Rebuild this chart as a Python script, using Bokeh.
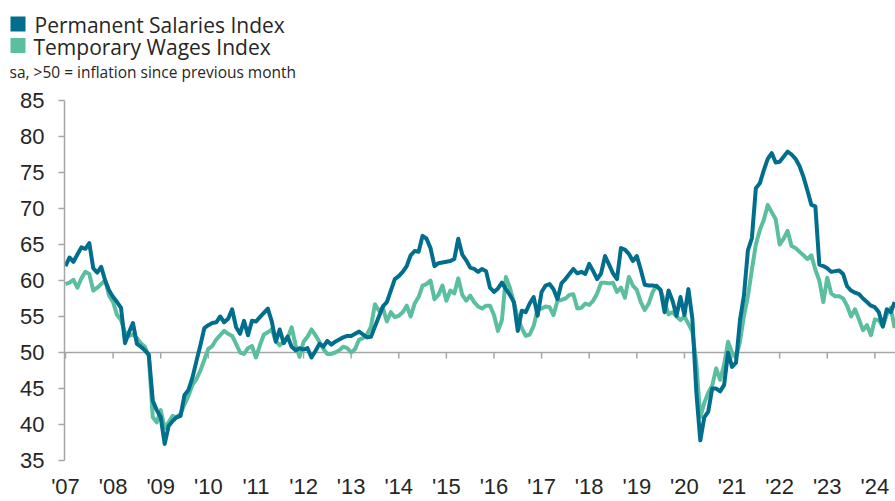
import numpy as np
from bokeh.plotting import figure
from bokeh.models import (Range1d, FixedTicker, Span, Label, ColumnDataSource)
from bokeh.embed import file_html
from bokeh.resources import INLINE

# ---------------- data (monthly, Jan 2007 - Jun 2024) ----------------
first_year = 2007
year_labels = ["'07", "'08", "'09", "'10", "'11", "'12", "'13", "'14", "'15",
               "'16", "'17", "'18", "'19", "'20", "'21", "'22", "'23", "'24"]

permanent = [
    62.0, 63.2, 62.6, 63.6, 64.6, 64.4, 65.2, 61.7, 61.1, 61.9, 60.0, 58.6,   # 2007
    57.7, 57.0, 56.2, 51.3, 52.8, 54.1, 51.2, 50.8, 50.3, 49.7, 43.3, 42.0,   # 2008
    41.0, 37.3, 39.8, 40.5, 41.0, 41.2, 44.1, 44.8, 46.5, 48.8, 51.0, 53.4,   # 2009
    53.8, 54.1, 54.2, 55.0, 54.2, 54.7, 56.0, 53.5, 52.6, 54.4, 52.4, 54.4,   # 2010
    54.3, 54.9, 55.5, 56.1, 54.3, 51.5, 53.2, 51.3, 52.2, 50.8, 50.3, 50.6,   # 2011
    50.4, 50.6, 49.3, 50.2, 51.2, 50.8, 51.6, 51.1, 51.5, 51.8, 52.1, 52.3,   # 2012
    52.3, 52.6, 52.9, 52.5, 52.1, 52.2, 53.6, 55.0, 56.4, 57.0, 58.6, 60.2,   # 2013
    60.6, 61.2, 62.0, 63.5, 64.1, 64.0, 66.2, 65.8, 64.5, 62.0, 62.4, 62.5,   # 2014
    62.6, 62.7, 63.0, 65.8, 63.6, 62.8, 61.8, 61.6, 61.2, 61.6, 61.3, 59.0,   # 2015
    58.4, 58.9, 59.7, 58.8, 58.0, 57.0, 53.0, 55.8, 55.6, 56.8, 57.7, 55.1,   # 2016
    58.4, 59.3, 59.5, 58.8, 57.4, 59.6, 60.2, 60.9, 61.6, 61.0, 61.2, 60.9,   # 2017
    62.3, 61.3, 60.2, 61.0, 63.4, 62.2, 61.0, 60.2, 64.5, 64.3, 63.7, 62.7,   # 2018
    63.4, 61.5, 59.4, 59.3, 59.3, 59.2, 58.7, 55.6, 58.6, 57.2, 55.1, 57.7,   # 2019
    55.2, 58.8, 54.7, 44.5, 37.8, 41.0, 41.8, 45.0, 45.0, 44.6, 45.5, 50.0,   # 2020
    48.0, 48.6, 54.5, 57.9, 64.2, 65.9, 72.8, 73.5, 75.3, 76.9, 77.7, 76.4,   # 2021
    76.5, 77.2, 77.9, 77.5, 76.9, 75.9, 74.4, 72.5, 70.5, 70.3, 62.2, 62.0,   # 2022
    61.7, 61.2, 61.3, 61.4, 60.9, 59.2, 58.6, 58.3, 58.1, 57.5, 57.0, 56.5,   # 2023
    56.3, 55.6, 53.6, 56.0, 55.6, 57.0,                                       # 2024
]

temporary = [
    59.5, 59.7, 60.1, 59.0, 60.3, 61.2, 60.9, 58.6, 59.0, 59.5, 60.0, 57.9,   # 2007
    57.0, 55.2, 54.5, 52.8, 52.3, 52.5, 52.0, 51.3, 50.8, 49.5, 41.0, 40.3,   # 2008
    42.0, 39.5, 40.3, 41.2, 41.0, 41.5, 42.8, 44.0, 45.5, 46.3, 47.5, 49.0,   # 2009
    50.5, 50.9, 51.8, 52.4, 53.0, 52.6, 52.3, 51.2, 50.0, 49.8, 50.6, 50.9,   # 2010
    49.3, 51.0, 52.5, 52.8, 53.2, 51.6, 51.0, 51.5, 52.0, 53.5, 51.0, 49.4,   # 2011
    51.5, 52.2, 53.2, 52.4, 51.5, 50.5, 49.8, 49.8, 50.0, 50.3, 50.8, 50.6,   # 2012
    50.0, 50.5, 51.8, 52.0, 52.5, 53.6, 56.7, 55.8, 56.2, 54.3, 55.6, 54.9,   # 2013
    55.1, 55.6, 56.5, 55.0, 56.8, 57.7, 59.3, 59.5, 60.0, 57.4, 58.0, 59.3,   # 2014
    57.2, 58.6, 58.2, 60.3, 58.0, 57.2, 57.9, 57.0, 56.4, 56.1, 56.5, 56.5,   # 2015
    55.2, 53.0, 54.5, 60.5, 59.0, 57.0, 54.8, 53.4, 52.3, 52.5, 53.7, 56.0,   # 2016
    56.1, 56.4, 56.3, 55.2, 57.2, 57.3, 57.5, 58.0, 58.1, 56.1, 56.2, 56.8,   # 2017
    56.6, 57.2, 58.2, 59.7, 59.7, 59.6, 59.7, 58.4, 59.0, 57.6, 60.5, 59.3,   # 2018
    58.7, 57.0, 55.9, 56.8, 58.4, 59.3, 58.6, 57.0, 55.3, 55.6, 55.0, 54.5,   # 2019
    55.0, 54.0, 52.9, 48.5, 41.0, 43.0, 44.4, 45.4, 47.8, 46.2, 48.3, 51.5,   # 2020
    50.0, 49.3, 51.5, 55.1, 57.8, 61.5, 65.0, 67.0, 68.4, 70.5, 69.5, 68.5,   # 2021
    65.0, 65.8, 66.9, 64.8, 64.5, 64.0, 63.5, 63.0, 63.5, 61.5, 60.0, 57.0,   # 2022
    60.4, 58.2, 57.8, 57.8, 57.5, 56.5, 55.0, 56.0, 54.6, 53.1, 53.8, 52.4,   # 2023
    54.6, 54.5, 53.6, 55.3, 56.2, 53.4,                                       # 2024
]

series_names = ["Permanent Salaries Index", "Temporary Wages Index"]
subtitle = "sa, >50 = inflation since previous month"
y_ticks = [35, 40, 45, 50, 55, 60, 65, 70, 75, 80, 85]
neutral_level = 50

# ---------------- styling ----------------
DARK = "#006E8C"
LIGHT = "#5BBE9F"
GREY = "#A6A6A6"
TEXT = "#262626"
AX_FONT = "Liberation Sans"
LG_FONT = "Open Sans"

W = 895
HEAD_H = 86          # header strip (legend + subtitle), pixel coordinates
CHART_H = 415        # chart below it

months = np.arange(len(permanent))
year_ticks = [12 * i for i in range(len(year_labels))]
src = ColumnDataSource(dict(m=months, perm=permanent, temp=temporary))

# ---------------- header: legend swatches, names, subtitle ----------------
head = figure(width=W, height=HEAD_H, output_backend="svg", toolbar_location=None,
              x_range=Range1d(0, W), y_range=Range1d(HEAD_H, 0),
              x_axis_type=None, y_axis_type=None,
              min_border_left=0, min_border_right=0, min_border_top=0,
              min_border_bottom=0)
head.outline_line_color = None
head.xgrid.visible = False
head.ygrid.visible = False

swatch = ColumnDataSource(dict(x=[17.5, 17.5], y=[23.5, 45.0], c=[DARK, LIGHT]))
head.rect(x="x", y="y", width=15, height=15, source=swatch,
          fill_color="c", line_color=None)

head.add_layout(Label(x=34, y=24.0, text=series_names[0], text_font=LG_FONT,
                      text_font_size="21px", text_color=TEXT,
                      text_baseline="alphabetic"))
head.add_layout(Label(x=33, y=46.0, text=series_names[1], text_font=LG_FONT,
                      text_font_size="21px", text_color=TEXT,
                      text_baseline="alphabetic"))
head.add_layout(Label(x=9, y=71.5, text=subtitle, text_font=LG_FONT,
                      text_font_size="15.5px", text_color=TEXT,
                      text_baseline="alphabetic"))

# ---------------- chart ----------------
p = figure(width=W, height=CHART_H, output_backend="svg", toolbar_location=None,
           x_range=Range1d(-0.25, 209.2), y_range=Range1d(35, 85),
           min_border_left=64, min_border_right=0, min_border_top=14,
           min_border_bottom=38)
p.outline_line_color = None
p.xgrid.visible = False
p.ygrid.visible = False
p.background_fill_color = "white"
p.border_fill_color = "white"

p.yaxis.ticker = FixedTicker(ticks=y_ticks)
p.yaxis.axis_line_color = GREY
p.yaxis.axis_line_width = 1.5
p.yaxis.major_tick_line_color = GREY
p.yaxis.major_tick_line_width = 1.5
p.yaxis.major_tick_out = 6
p.yaxis.major_tick_in = 0
p.yaxis.minor_tick_out = 0
p.yaxis.minor_tick_in = 0
p.yaxis.major_label_standoff = 14
p.yaxis.major_label_text_font = AX_FONT
p.yaxis.major_label_text_font_size = "22px"
p.yaxis.major_label_text_color = TEXT

p.xaxis.ticker = FixedTicker(ticks=year_ticks)
p.xaxis.major_label_overrides = {t: lab for t, lab in zip(year_ticks, year_labels)}
p.xaxis.axis_line_alpha = 0
p.xaxis.major_tick_out = 0
p.xaxis.major_tick_in = 0
p.xaxis.minor_tick_out = 0
p.xaxis.minor_tick_in = 0
p.xaxis.major_label_standoff = 13
p.xaxis.major_label_text_font = AX_FONT
p.xaxis.major_label_text_font_size = "22px"
p.xaxis.major_label_text_color = TEXT

p.add_layout(Span(location=neutral_level, dimension="width", line_color=GREY,
                  line_width=1.5, level="underlay"))
tick_len = 6 / (363 / 50)  # 6 px in data units
p.segment(x0=year_ticks, x1=year_ticks, y0=[neutral_level] * len(year_ticks),
          y1=[neutral_level - tick_len] * len(year_ticks),
          line_color=GREY, line_width=1.5)

p.line("m", "temp", source=src, line_color=LIGHT, line_width=4, line_join="round")
p.line("m", "perm", source=src, line_color=DARK, line_width=4, line_join="round")

# two independent roots stacked on the page (no frame alignment between them)
open("out.html", "w").write(file_html([head, p], INLINE))
